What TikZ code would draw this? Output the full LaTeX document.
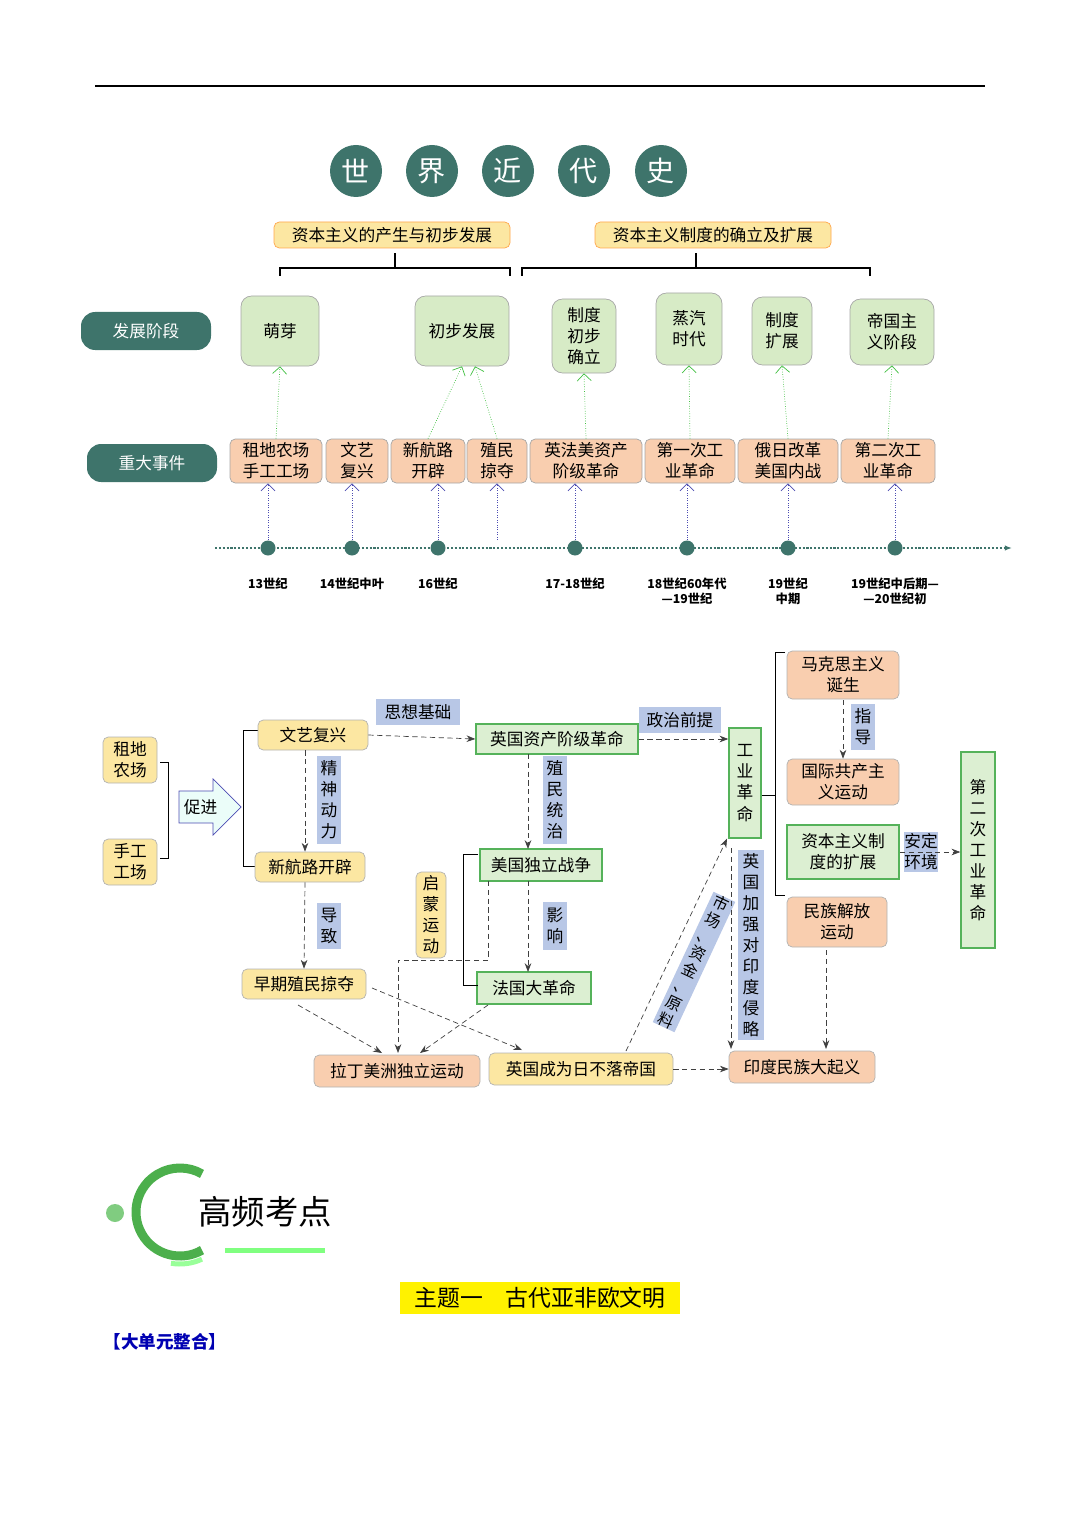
\documentclass[tikz,border=0pt]{standalone}
\usepackage{fontspec}
\setmainfont{Noto Sans CJK SC}
\usetikzlibrary{positioning,arrows.meta,shapes.arrows}
\def\px{*0.02cm}
\definecolor{teal1}{HTML}{3E746B}
\definecolor{stagefill}{HTML}{D7EBC6}
\definecolor{eventfill}{HTML}{F9CEAF}
\definecolor{yfill}{HTML}{FCE7A2}
\definecolor{gfill}{HTML}{DCEFD2}
\definecolor{tagfill}{HTML}{B8C7E6}
\definecolor{gline}{HTML}{55B25A}

\tikzset{
  stage/.style={draw=gray!70, fill=stagefill, rounded corners=6pt, align=center, inner sep=0pt, font=\fontsize{9.5}{12}\selectfont},
  event/.style={draw=gray!70, fill=eventfill, rounded corners=3pt, align=center, inner sep=0pt, minimum height=44\px, font=\fontsize{9.5}{12}\selectfont},
  ybox/.style={draw=gray!60, fill=yfill, rounded corners=3pt, align=center, inner sep=0pt, font=\fontsize{9.5}{12}\selectfont},
  sbox/.style={draw=gray!60, fill=eventfill, rounded corners=3pt, align=center, inner sep=0pt, font=\fontsize{9.5}{12}\selectfont},
  gbox/.style={draw=gline, thick, fill=gfill, align=center, inner sep=0pt, font=\fontsize{9.5}{12}\selectfont},
  tagbox/.style={fill=tagfill, align=center, inner sep=0pt, font=\fontsize{9.5}{12}\selectfont},
  side/.style={fill=teal1, text=white, rounded corners=8pt, minimum width=130\px, minimum height=38\px, font=\fontsize{9.5}{12}\selectfont},
  title/.style={circle, fill=teal1, text=white, minimum size=52\px, inner sep=0pt, font=\fontsize{16}{18}\selectfont},
  dot/.style={circle, fill=teal1, minimum size=15\px, inner sep=0pt},
  year/.style={align=center, font=\bfseries\fontsize{7}{8.5}\selectfont},
  up/.style={densely dotted, green!50!gray, -{Straight Barb[length=4pt]}},
  upb/.style={densely dotted, blue!40!gray, -{Straight Barb[length=4pt]}},
  flow/.style={densely dashed, black!75, -{Stealth[length=5pt]}},
}

\begin{document}
\begin{tikzpicture}[x=0.02cm, y=-0.02cm]
\useasboundingbox (0,0) rectangle (1080,1527);
\draw[thick] (95,86) -- (985,86);

% title
\foreach \c/\x in {世/356, 界/432, 近/508, 代/584, 史/661}
  \node[title] (t\x) at (\x,171) {\c};

% headers
\node[ybox, draw=orange!70, minimum width=236\px, minimum height=26\px] (h1) at (392,235) {资本主义的产生与初步发展};
\node[ybox, draw=orange!70, minimum width=236\px, minimum height=26\px] (h2) at (713,235) {资本主义制度的确立及扩展};
\draw[thick] (280,276) -- (280,268) -- (510,268) -- (510,276) (395,268) -- (395,253);
\draw[thick] (522,276) -- (522,268) -- (870,268) -- (870,276) (696,268) -- (696,253);

% stages
\node[side] (s1) at (146,331) {发展阶段};
\node[side] (s2) at (152,463) {重大事件};
\node[stage, minimum width=78\px, minimum height=70\px] (p1) at (280,331) {萌芽};
\node[stage, minimum width=94\px, minimum height=70\px] (p2) at (462,331) {初步发展};
\node[stage, minimum width=64\px, minimum height=74\px] (p3) at (584,336) {制度\\初步\\确立};
\node[stage, minimum width=66\px, minimum height=72\px] (p4) at (689,329) {蒸汽\\时代};
\node[stage, minimum width=60\px, minimum height=68\px] (p5) at (782,331) {制度\\扩展};
\node[stage, minimum width=84\px, minimum height=66\px] (p6) at (892,332) {帝国主\\义阶段};

% events
\node[event, minimum width=92\px] (e1) at (276,461) {租地农场\\手工工场};
\node[event, minimum width=62\px] (e2) at (357,461) {文艺\\复兴};
\node[event, minimum width=74\px] (e3) at (428,461) {新航路\\开辟};
\node[event, minimum width=60\px] (e4) at (497,461) {殖民\\掠夺};
\node[event, minimum width=112\px] (e5) at (586,461) {英法美资产\\阶级革命};
\node[event, minimum width=90\px] (e6) at (690,461) {第一次工\\业革命};
\node[event, minimum width=100\px] (e7) at (788,461) {俄日改革\\美国内战};
\node[event, minimum width=94\px] (e8) at (888,461) {第二次工\\业革命};

\draw[up] (e1.north) -- (p1.south);
\draw[up] (e3.north) -- (p2.south);
\draw[up] (e4.north) -- ([xshift=13\px]p2.south);
\draw[up] (e5.north) -- (p3.south);
\draw[up] (e6.north) -- (p4.south);
\draw[up] (e7.north) -- (p5.south);
\draw[up] (e8.north) -- (p6.south);

% timeline
\draw[densely dotted, very thick, teal1, -{Latex[length=4pt]}] (215,548) -- (1012,548);
\foreach \x/\e/\t in {268/e1/13世纪, 352/e2/14世纪中叶, 438/e3/16世纪, 575/e5/17-18世纪, 687/e6/18世纪60年代\\—19世纪, 788/e7/19世纪\\中期, 895/e8/19世纪中后期—\\—20世纪初}{
  \node[dot] (d\x) at (\x,548) {};
  \draw[upb] (d\x) -- (d\x |- \e.south);
  \node[year, anchor=north] (y\x) at (\x,572) {\t};
}
\coordinate (c4) at (497,540);
\draw[upb] (c4) -- (e4.south);

% lower part
\node[ybox, minimum width=54\px, minimum height=46\px] (zd) at (130,760) {租地\\农场};
\node[ybox, minimum width=54\px, minimum height=46\px] (sg) at (130,862) {手工\\工场};
\draw (160,762) -- (168,762) -- (168,858) -- (160,858);
\node[single arrow, draw=blue!40!gray, fill=gfill!70!cyan!20, minimum width=56\px, minimum height=62\px, single arrow head extend=6\px, inner sep=0pt, font=\fontsize{9.5}{12}\selectfont] (cj) at (202,807) {促进\,};
\draw (258,730) -- (243,730) -- (243,866) -- (258,866);

\node[ybox, minimum width=110\px, minimum height=30\px] (wy) at (313,735) {文艺复兴};
\node[ybox, minimum width=110\px, minimum height=30\px] (xh) at (310,867) {新航路开辟};
\node[ybox, minimum width=124\px, minimum height=30\px] (zq) at (304,984) {早期殖民掠夺};
\node[tagbox, minimum width=24\px, minimum height=88\px] (jx) at (329,800) {精\\神\\动\\力};
\node[tagbox, minimum width=24\px, minimum height=46\px] (dz) at (329,926) {导\\致};
\draw[flow] ([xshift=-8\px]wy.south) -- ([xshift=-5\px]xh.north);
\draw[flow] ([xshift=-5\px]xh.south) -- (zq.north);

\node[tagbox, minimum width=84\px, minimum height=26\px] (sx) at (418,712) {思想基础};
\node[gbox, minimum width=162\px, minimum height=30\px] (yg) at (557,739) {英国资产阶级革命};
\draw[flow] (wy.east) -- (yg.west);
\node[tagbox, minimum width=82\px, minimum height=26\px] (zz) at (680,720) {政治前提};
\node[gbox, minimum width=32\px, minimum height=110\px] (gy) at (745,783) {工\\业\\革\\命};
\draw[flow] (yg.east) -- (gy.west |- yg.east);

\node[tagbox, minimum width=24\px, minimum height=88\px] (zm) at (555,800) {殖\\民\\统\\治};
\node[gbox, minimum width=122\px, minimum height=32\px] (md) at (541,865) {美国独立战争};
\node[tagbox, minimum width=24\px, minimum height=48\px] (yx) at (555,926) {影\\响};
\node[gbox, minimum width=114\px, minimum height=32\px] (fg) at (534,988) {法国大革命};
\draw[flow] (528,754) -- (528,849);
\draw[flow] (528,881) -- (528,972);
\node[ybox, minimum width=30\px, minimum height=86\px] (qm) at (431,915) {启\\蒙\\运\\动};
\draw (478,854) -- (463,854) -- (463,985) -- (478,985);

\node[sbox, minimum width=166\px, minimum height=32\px] (ld) at (397,1071) {拉丁美洲独立运动};
\node[ybox, minimum width=184\px, minimum height=32\px] (rb) at (581,1069) {英国成为日不落帝国};
\node[sbox, minimum width=146\px, minimum height=32\px] (yd) at (802,1067) {印度民族大起义};

\draw[flow] (298,1005) -- (382,1053);
\draw[flow] (372,988) -- (522,1050);
\draw[flow] (488,1005) -- (420,1053);
\draw[flow] (488,881) -- (488,960) -- (398,960) -- (398,1053);
\draw[flow] (626,1051) -- ([xshift=-18\px]gy.south);
\node[tagbox, rotate=-25, minimum width=24\px, minimum height=126\px, font=\fontsize{9}{10.5}\selectfont] (sc) at (694,962) {市\\场\\、\\资\\金\\、\\原\\料};
\draw[flow] (rb.east) -- (yd.west |- rb.east);
\node[tagbox, minimum width=26\px, minimum height=190\px] (qr) at (751,945) {英\\国\\加\\强\\对\\印\\度\\侵\\略};
\draw[flow] (731,848) -- (731,1049);

\draw (785,652) -- (775,652) -- (775,895) -- (785,895) (775,795) -- (gy.east |- 0,795);
\node[sbox, minimum width=112\px, minimum height=48\px] (mk) at (843,675) {马克思主义\\诞生};
\node[tagbox, minimum width=24\px, minimum height=46\px] (zd2) at (863,727) {指\\导};
\node[sbox, minimum width=112\px, minimum height=46\px] (gj) at (843,782) {国际共产主\\义运动};
\draw[flow] (843,700) -- (gj.north);
\node[gbox, minimum width=112\px, minimum height=54\px] (zb) at (843,852) {资本主义制\\度的扩展};
\node[tagbox, minimum width=34\px, minimum height=40\px] (ad) at (921,852) {安定\\环境};
\node[gbox, minimum width=34\px, minimum height=196\px] (de) at (978,850) {第\\二\\次\\工\\业\\革\\命};
\draw[flow] (900,852) -- (de.west |- 0,852);
\node[sbox, minimum width=100\px, minimum height=50\px] (mz) at (837,922) {民族解放\\运动};
\draw[flow] (826,950) -- (826,1049);

% bottom heading
\draw[line width=9\px, green!55!black!70] (180,1212) ++(60:44) arc (60:300:44);
\draw[line width=5\px, green!40] (180,1212) ++(65:52) arc (65:100:52);
\node[circle, fill=green!60!black!50, minimum size=18\px, inner sep=0pt] (gd) at (115,1213) {};
\draw[line width=5\px, green!50] (225,1250) -- (325,1250);
\node[font=\fontsize{19}{22}\selectfont] (gp) at (265,1212) {高频考点};
\node[fill=yellow, minimum width=280\px, minimum height=32\px, inner sep=0pt, font=\fontsize{13}{15}\selectfont] (zt) at (540,1298) {主题一\quad 古代亚非欧文明};
\node[text=blue!70!black, font=\bfseries\fontsize{10}{12}\selectfont] (dy) at (165,1342) {【大单元整合】};
\end{tikzpicture}
\end{document}
